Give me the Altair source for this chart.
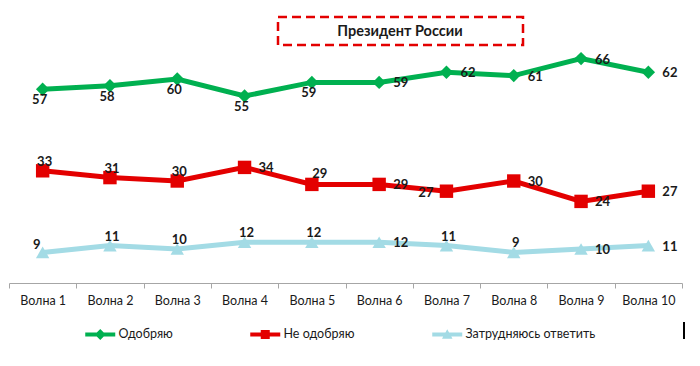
import altair as alt
import pandas as pd

# ---- data ----
waves = ["Волна 1", "Волна 2", "Волна 3", "Волна 4", "Волна 5",
         "Волна 6", "Волна 7", "Волна 8", "Волна 9", "Волна 10"]
series_names = ["Одобряю", "Не одобряю", "Затрудняюсь ответить"]
approve = [57, 58, 60, 55, 59, 59, 62, 61, 66, 62]
disapprove = [33, 31, 30, 34, 29, 29, 27, 30, 24, 27]
unsure = [9, 11, 10, 12, 12, 12, 11, 9, 10, 11]
title_text = "Президент России"

# label placement codes (style only)
approve_pos = ["b", "b", "b", "b", "b", "r", "r", "r", "r", "r"]
disapprove_pos = ["a", "a", "a", "r", "ar", "r", "l", "r", "r", "r"]
unsure_pos = ["al", "a", "a", "a", "a", "r", "a", "a", "r", "r"]

colors = ["#00B050", "#E30000", "#A3DBE5"]
point_shapes = ["diamond", "square", "triangle-up"]
legend_paths = [
    "M-3,-0.4L3,-0.4L3,0.4L-3,0.4Z M0,-1.1L1.1,0L0,1.1L-1.1,0Z",
    "M-3,-0.4L3,-0.4L3,0.4L-3,0.4Z M-0.9,-0.9L0.9,-0.9L0.9,0.9L-0.9,0.9Z",
    "M-3,-0.4L3,-0.4L3,0.4L-3,0.4Z M0,-1.05L1.05,0.85L-1.05,0.85Z",
]

rows = []
for name, vals, poss, shp in zip(series_names, [approve, disapprove, unsure],
                                 [approve_pos, disapprove_pos, unsure_pos], point_shapes):
    for w, v, p in zip(waves, vals, poss):
        rows.append({"wave": w, "series": name, "value": v, "pos": p, "shape": shp})
df = pd.DataFrame(rows)

x_enc = alt.X("wave:N", sort=waves, title=None,
              scale=alt.Scale(paddingInner=0, paddingOuter=0),
              axis=alt.Axis(labelAngle=0, domainColor="#A6A6A6", tickColor="#A6A6A6",
                            tickSize=5, tickBand="extent", labelPadding=6,
                            labelFont="Lato", labelFontSize=12.5, labelColor="#1a1a1a",
                            grid=False))
y_enc = alt.Y("value:Q", scale=alt.Scale(domain=[0, 80]), axis=None)
color_scale = alt.Scale(domain=series_names, range=colors)
shape_scale = alt.Scale(domain=series_names, range=legend_paths)

legend_def = alt.Legend(title=None, orient="none", legendX=85, legendY=317,
                        direction="horizontal", symbolSize=100,
                        labelOffset=12, columnPadding=77,
                        labelFont="Lato", labelFontSize=12.5,
                        labelColor="#1a1a1a", symbolStrokeWidth=0,
                        symbolOpacity=1)

base = alt.Chart(df)

lines = base.mark_line(strokeWidth=5).encode(
    x=x_enc, y=y_enc,
    color=alt.Color("series:N", scale=color_scale, legend=legend_def),
    detail="series:N",
)

points = base.mark_point(filled=True, opacity=1, size=180).encode(
    x=x_enc, y=y_enc,
    color=alt.Color("series:N", scale=color_scale, legend=legend_def),
    shape=alt.Shape("shape:N", scale=None),
)

legend_layer = base.transform_filter("datum.value < 0").mark_point(filled=True, opacity=1).encode(
    x=x_enc, y=y_enc,
    color=alt.Color("series:N", scale=color_scale, legend=legend_def),
    shape=alt.Shape("series:N", scale=shape_scale, legend=legend_def),
)

label_styles = {
    "b": dict(dx=-3, dy=11, align="center"),
    "a": dict(dx=2, dy=-9, align="center"),
    "ar": dict(dx=8, dy=-10, align="center"),
    "al": dict(dx=-6, dy=-7, align="center"),
    "r": dict(dx=14, dy=1, align="left"),
    "l": dict(dx=-13, dy=2, align="right"),
}
label_layers = []
for code, st in label_styles.items():
    label_layers.append(
        base.transform_filter(alt.datum.pos == code).mark_text(
            font="Lato", fontSize=13, fontWeight="bold", color="#1a1a1a",
            baseline="middle", **st
        ).encode(x=x_enc, y=y_enc, text="value:Q")
    )

deco = alt.Chart(pd.DataFrame({"t": [title_text]}))
title_box = deco.mark_rect(fill=None, stroke="#E30000", strokeWidth=2.5,
                           strokeDash=[9, 5]).encode(
    x=alt.value(269), x2=alt.value(514), y=alt.value(6), y2=alt.value(34))
title_mark = deco.mark_text(font="Lato", fontSize=14.5, fontWeight="bold",
                            color="#1a1a1a", align="center", baseline="middle").encode(
    x=alt.value(391), y=alt.value(21), text="t:N")
bar_mark = deco.mark_rule(color="#000000", strokeWidth=2).encode(
    x=alt.value(675), y=alt.value(311), y2=alt.value(328))

chart = alt.layer(lines, points, legend_layer, *label_layers, title_box, title_mark, bar_mark).properties(
    width=673, height=272,
    autosize=alt.AutoSizeParams(type="none"),
    padding={"left": 9, "top": 11, "right": 18, "bottom": 83},
).configure_view(stroke=None)

chart.save("out.html", embed_options={"renderer": "svg", "actions": False})
